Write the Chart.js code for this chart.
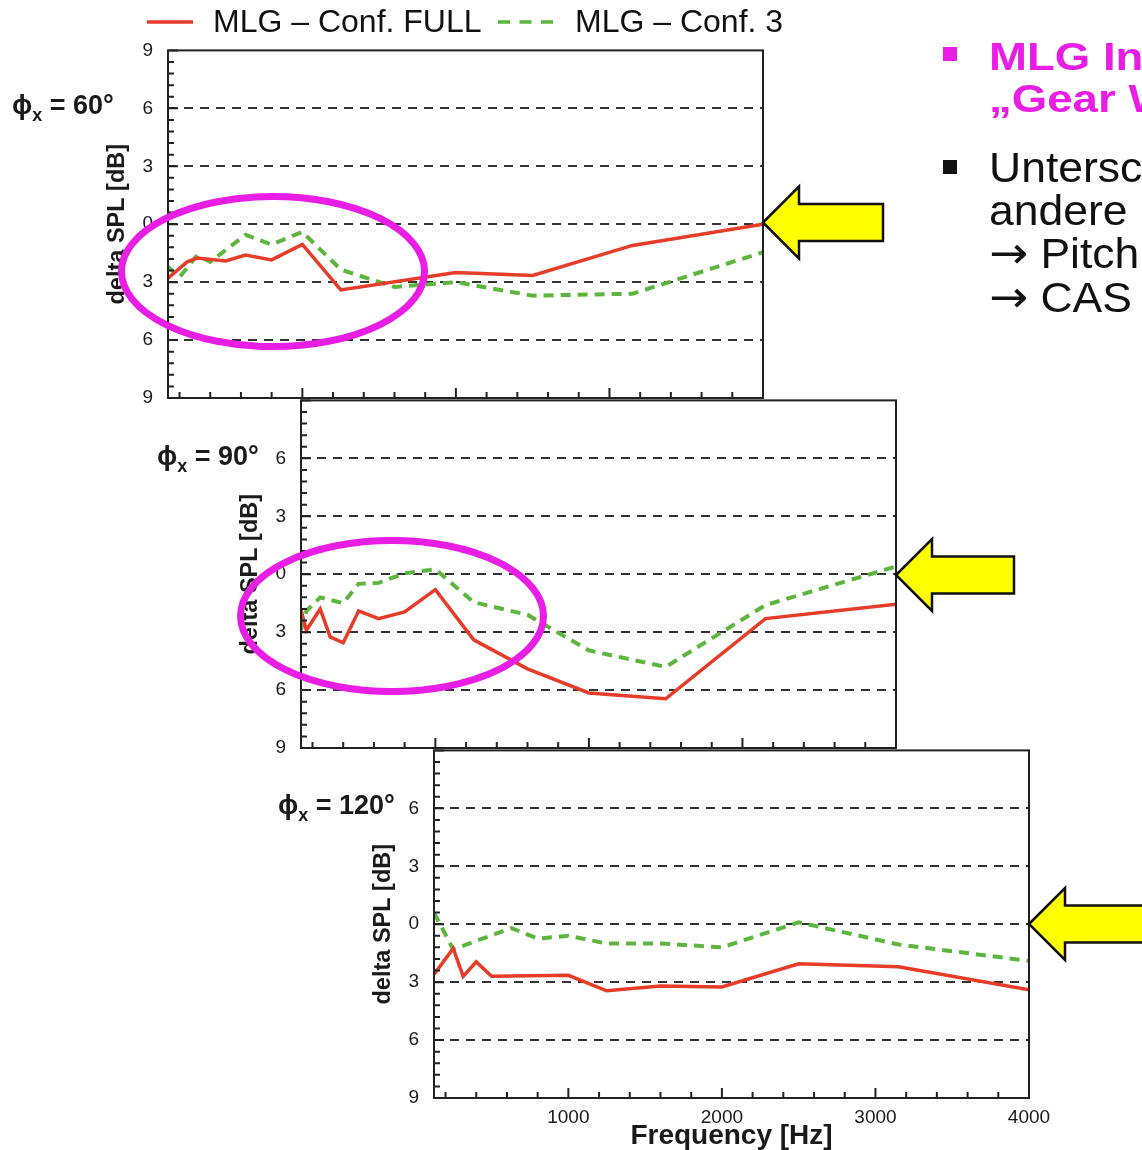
<!DOCTYPE html>
<html>
<head>
<meta charset="utf-8">
<title>MLG delta SPL</title>
<script src="https://cdn.jsdelivr.net/npm/chart.js@4.4.1/dist/chart.umd.min.js"></script>
<style>
  html, body { margin: 0; padding: 0; background: #fff; }
  #page { position: relative; width: 1142px; height: 1150px; overflow: hidden; background: #fff;
          font-family: "Liberation Sans", Arial, sans-serif; }
  #page canvas { position: absolute; }
  #overlay { position: absolute; left: 0; top: 0; width: 1142px; height: 1150px; pointer-events: none; z-index: 5; }
</style>
</head>
<body>
<div id="page">
  <canvas id="c60" width="693" height="406" style="left:100px; top:24px;"></canvas>
  <canvas id="c90" width="693" height="406" style="left:233px; top:374px;"></canvas>
  <canvas id="c120" width="693" height="426" style="left:366px; top:724px;"></canvas>
  <svg id="overlay" width="1142" height="1150" xmlns="http://www.w3.org/2000/svg"></svg>
</div>
<script>
// ---- series and axis values ----
const seriesLabels = ['MLG \u2013 Conf. FULL', 'MLG \u2013 Conf. 3'];
const seriesColors = ['#e63c28', '#5cb63e'];
const xTickValues = [1000, 2000, 3000, 4000];
const yTickValues = [-9, -6, -3, 0, 3, 6, 9];
const freqMin = 125, freqMax = 4000;

// phi_x = 60 deg
const f60Full  = [125, 250, 315, 500, 630, 800, 1000, 1250, 2000, 2500, 3150, 4000];
const d60Full  = [-2.8, -1.95, -1.75, -1.9, -1.6, -1.85, -1.05, -3.4, -2.5, -2.65, -1.1, 0.0];
const f60Conf3 = [125, 200, 315, 400, 630, 800, 1000, 1250, 1600, 2000, 2500, 3150, 4000];
const d60Conf3 = [-2.2, -2.75, -1.6, -1.95, -0.55, -1.05, -0.4, -2.35, -3.25, -3.0, -3.7, -3.6, -1.45];

// phi_x = 90 deg
const f90Full  = [125, 160, 250, 315, 400, 500, 630, 800, 1000, 1250, 1600, 2000, 2500, 3150, 4000];
const d90Full  = [-1.85, -2.9, -1.8, -3.25, -3.55, -1.9, -2.3, -1.95, -0.8, -3.4, -4.9, -6.15, -6.45, -2.3, -1.55];
const f90Conf3 = [125, 160, 250, 400, 500, 630, 800, 1000, 1250, 1600, 2000, 2500, 3150, 4000];
const d90Conf3 = [-2.9, -1.9, -1.2, -1.5, -0.5, -0.45, 0.05, 0.25, -1.45, -2.1, -3.95, -4.8, -1.6, 0.4];

// phi_x = 120 deg
const f120Full  = [125, 250, 315, 400, 500, 1000, 1250, 1600, 2000, 2500, 3150, 4000];
const d120Full  = [-2.6, -1.25, -2.7, -1.95, -2.7, -2.65, -3.45, -3.2, -3.25, -2.05, -2.2, -3.4];
const f120Conf3 = [125, 250, 630, 800, 1000, 1250, 1600, 2000, 2500, 3150, 4000];
const d120Conf3 = [0.6, -1.3, -0.2, -0.75, -0.6, -1.0, -1.0, -1.2, 0.1, -1.05, -1.9];

const FONT = '"Liberation Sans", Arial, sans-serif';
Chart.defaults.font.family = FONT;
Chart.defaults.color = '#1a1a1a';

const pts = (f, d) => f.map((v, i) => ({ x: v, y: d[i] }));

// Box around the plot area plus inward tick marks on the left and bottom axes
const framePlugin = {
  id: 'frame',
  afterDatasetsDraw(chart) {
    const { ctx, chartArea: a, scales: { x, y } } = chart;
    ctx.save();
    ctx.strokeStyle = '#222';
    ctx.lineWidth = 2;
    ctx.beginPath();
    for (let k = 0; k <= 30; k++) {
      const v = -9 + k * 0.6;
      const p = y.getPixelForValue(v);
      const len = (k % 5 === 0) ? 10 : 6;
      ctx.moveTo(a.left, p); ctx.lineTo(a.left + len, p);
    }
    for (let f = 200; f < freqMax; f += 200) {
      const p = x.getPixelForValue(f);
      const len = (f % 1000 === 0) ? 10 : 6;
      ctx.moveTo(p, a.bottom); ctx.lineTo(p, a.bottom - len);
    }
    ctx.stroke();
    ctx.strokeRect(a.left, a.top, a.right - a.left, a.bottom - a.top);
    ctx.restore();
  }
};

function makeChart(id, full, conf3, opts) {
  const showX = !!opts.showX;
  return new Chart(document.getElementById(id), {
    type: 'line',
    data: {
      datasets: [
        { label: seriesLabels[0], data: full, borderColor: seriesColors[0], borderWidth: 3.5,
          pointRadius: 0, tension: 0, fill: false },
        { label: seriesLabels[1], data: conf3, borderColor: seriesColors[1], borderWidth: 4,
          borderDash: [10, 7], pointRadius: 0, tension: 0, fill: false }
      ]
    },
    options: {
      responsive: false,
      animation: false,
      events: [],
      layout: { padding: { left: 0, top: 14, right: 30, bottom: 0 } },
      plugins: { legend: { display: false }, tooltip: { enabled: false } },
      scales: {
        x: {
          type: 'linear', min: freqMin, max: freqMax,
          afterBuildTicks: s => { s.ticks = xTickValues.map(v => ({ value: v })); },
          afterFit: s => { s.height = opts.xHeight; },
          ticks: { display: showX, font: { size: 19 }, color: '#1a1a1a', padding: 8,
                   maxRotation: 0, autoSkip: false, callback: v => String(v) },
          grid: { display: false, drawTicks: false },
          border: { display: false },
          title: { display: showX, text: 'Frequency [Hz]', color: '#1a1a1a',
                   font: { size: 28, weight: 'bold', lineHeight: 1.0 }, padding: { top: 0, bottom: 0 } }
        },
        y: {
          type: 'linear', min: -9, max: 9,
          afterBuildTicks: s => { s.ticks = yTickValues.map(v => ({ value: v })); },
          afterFit: s => { s.width = 68; },
          ticks: {
            font: { size: 19 }, color: '#1a1a1a', padding: 15,
            callback: v => (opts.hideTop && v === 9) ? '' : String(Math.abs(v))
          },
          grid: {
            drawTicks: false, lineWidth: 2,
            color: c => (c.tick && Math.abs(c.tick.value) < 9) ? '#333' : 'rgba(0,0,0,0)'
          },
          border: { display: false, dash: [9, 7] },
          title: { display: true, text: 'delta SPL [dB]', color: '#1a1a1a',
                   font: { size: 23.5, weight: 'bold' }, padding: { top: 3, bottom: 0 } }
        }
      }
    },
    plugins: [framePlugin]
  });
}

makeChart('c60',  pts(f60Full, d60Full),   pts(f60Conf3, d60Conf3),   { xHeight: 32, hideTop: false });
makeChart('c90',  pts(f90Full, d90Full),   pts(f90Conf3, d90Conf3),   { xHeight: 32, hideTop: true });
makeChart('c120', pts(f120Full, d120Full), pts(f120Conf3, d120Conf3), { xHeight: 52, hideTop: true, showX: true });

// ---- overlay: legend, angle labels, highlights, arrows and slide text ----
const NS = 'http://www.w3.org/2000/svg';
const svg = document.getElementById('overlay');
function el(tag, attrs, text) {
  const e = document.createElementNS(NS, tag);
  for (const k in attrs) e.setAttribute(k, attrs[k]);
  if (text !== undefined) e.textContent = text;
  svg.appendChild(e);
  return e;
}
function span(parent, attrs, text) {
  const e = document.createElementNS(NS, 'tspan');
  for (const k in attrs) e.setAttribute(k, attrs[k]);
  e.textContent = text;
  parent.appendChild(e);
  return e;
}
const wide = (x, s) => `translate(${x},0) scale(${s},1) translate(${-x},0)`;

// legend
el('line', { x1: 147, y1: 22, x2: 193, y2: 22, stroke: seriesColors[0], 'stroke-width': 3.5 });
el('text', { x: 213, y: 32, 'font-family': FONT, 'font-size': 32, fill: '#111' }, seriesLabels[0]);
el('line', { x1: 498, y1: 22, x2: 553, y2: 22, stroke: seriesColors[1], 'stroke-width': 3.5,
             'stroke-dasharray': '12 9.5' });
el('text', { x: 575, y: 32, 'font-family': FONT, 'font-size': 32, fill: '#111' }, seriesLabels[1]);

// angle labels
function phiLabel(x, y, deg) {
  const t = el('text', { x: x, y: y, 'font-family': FONT, 'font-size': 27, 'font-weight': 'bold', fill: '#1a1a1a' });
  span(t, {}, '\u03D5');
  span(t, { dy: 7, 'font-size': 18 }, 'x');
  span(t, { dy: -7 }, ' = ' + deg + '\u00B0');
}
phiLabel(12, 114, 60);
phiLabel(157, 465, 90);
phiLabel(278, 814, 120);

// highlight ellipses
const MAG = '#e91ee5';
el('ellipse', { cx: 273, cy: 271.5, rx: 151.5, ry: 75, fill: 'none', stroke: MAG, 'stroke-width': 7 });
el('ellipse', { cx: 392, cy: 616, rx: 151.5, ry: 75.5, fill: 'none', stroke: MAG, 'stroke-width': 7 });

// arrows
function arrow(tx, ty, len) {
  const hx = tx + 36;
  const p = [[tx, ty], [hx, ty - 36], [hx, ty - 18.5], [tx + len, ty - 18.5], [tx + len, ty + 18.5],
             [hx, ty + 18.5], [hx, ty + 36]].map(q => q.join(',')).join(' ');
  el('polygon', { points: p, fill: '#ffff00', stroke: '#111', 'stroke-width': 2.5, 'stroke-linejoin': 'miter' });
}
arrow(763, 222.5, 120);
arrow(896, 575, 118);
arrow(1029, 924, 140);

// slide text
el('rect', { x: 943, y: 47, width: 14, height: 14, fill: MAG });
el('text', { x: 989, y: 70, 'font-family': FONT, 'font-size': 38, 'font-weight': 'bold', fill: MAG,
             transform: wide(989, 1.2) }, 'MLG In');
el('text', { x: 989, y: 112, 'font-family': FONT, 'font-size': 38, 'font-weight': 'bold', fill: MAG,
             transform: wide(989, 1.2) }, '\u201EGear W');
el('rect', { x: 943, y: 160, width: 14, height: 14, fill: '#111' });
el('text', { x: 989, y: 182, 'font-family': FONT, 'font-size': 42, fill: '#111',
             transform: wide(989, 1.06) }, 'Untersc');
el('text', { x: 989, y: 225, 'font-family': FONT, 'font-size': 42, fill: '#111',
             transform: wide(989, 1.06) }, 'andere');
for (const [word, base] of [['Pitch', 268], ['CAS', 312]]) {
  const t = el('text', { x: 989, y: base, 'font-family': FONT, 'font-size': 42, fill: '#111',
                         transform: wide(989, 1.06) });
  span(t, { 'font-family': '"DejaVu Sans", sans-serif', 'font-size': 44 }, '\u2192');
  span(t, {}, ' ' + word);
}
</script>
</body>
</html>
